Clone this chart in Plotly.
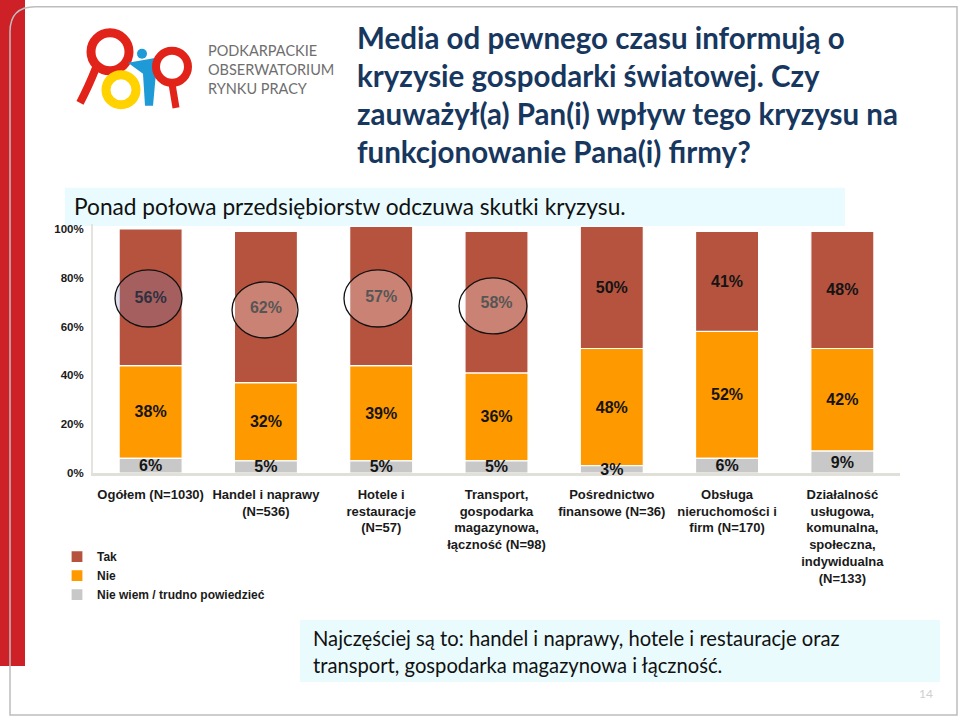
import plotly.graph_objects as go

categories = [
    "Ogółem (N=1030)",
    "Handel i naprawy<br>(N=536)",
    "Hotele i<br>restauracje<br>(N=57)",
    "Transport,<br>gospodarka<br>magazynowa,<br>łączność (N=98)",
    "Pośrednictwo<br>finansowe (N=36)",
    "Obsługa<br>nieruchomości i<br>firm (N=170)",
    "Działalność<br>usługowa,<br>komunalna,<br>społeczna,<br>indywidualna<br>(N=133)",
]
tak = [56, 62, 57, 58, 50, 41, 48]
nie = [38, 32, 39, 36, 48, 52, 42]
nie_wiem = [6, 5, 5, 5, 3, 6, 9]
y_ticks = [0, 20, 40, 60, 80, 100]
y_tick_labels = ["0%", "20%", "40%", "60%", "80%", "100%"]

W, H = 960, 718
Y_MAX = 102
L, R, B = 93, 900, 473
T = B - Y_MAX * 2.44


def px(xp):
    return (xp - L) / (R - L)


def py(yp):
    return (B - yp) / (B - T)


BAR_FONT = dict(family="Liberation Sans, Arial, sans-serif", size=16, color="#141414", weight="bold")

# stacked bottom-to-top: Nie wiem, Nie, Tak (bases computed from the data)
base_nie = nie_wiem
base_tak = [a + b for a, b in zip(nie_wiem, nie)]

fig = go.Figure()
# draw the grey segment last so its small labels sit on top of the orange bars
for name, vals, base, col, rank in [
    ("Nie", nie, base_nie, "#FF9900", 2),
    ("Tak", tak, base_tak, "#B5533F", 1),
    ("Nie wiem / trudno powiedzieć", nie_wiem, [0] * len(nie_wiem), "#C8C8C8", 3),
]:
    fig.add_trace(go.Bar(
        x=categories, y=vals, base=base, name=name, legendrank=rank,
        marker=dict(color=col, line=dict(color="white", width=1.2)),
        text=[f"{v}%" for v in vals], textposition="inside",
        insidetextanchor="middle", textangle=0, cliponaxis=False,
        textfont=BAR_FONT, hoverinfo="skip",
    ))

shapes = []
# slide frame
shapes.append(dict(type="rect", xref="paper", yref="paper",
                   x0=px(0), x1=px(25), y0=py(666), y1=py(0),
                   fillcolor="#CE2027", line=dict(width=0), layer="below"))
frame = (f"M {px(10)},{py(715)} L {px(10)},{py(32)} Q {px(10)},{py(7)} {px(35)},{py(7)} "
         f"L {px(957)},{py(7)} L {px(957)},{py(715)} Z")
shapes.append(dict(type="path", xref="paper", yref="paper", path=frame,
                   line=dict(color="#BDBDBD", width=1.5), layer="below"))
# text bands
shapes.append(dict(type="rect", xref="paper", yref="paper",
                   x0=px(65), x1=px(845), y0=py(226), y1=py(188),
                   fillcolor="#E9FBFE", line=dict(width=0), layer="below"))
shapes.append(dict(type="rect", xref="paper", yref="paper",
                   x0=px(300), x1=px(940), y0=py(682), y1=py(620),
                   fillcolor="#EAFBFE", line=dict(width=0), layer="below"))


def circle(cx, cy, r, **kw):
    return dict(type="circle", xref="paper", yref="paper",
                x0=px(cx - r), x1=px(cx + r), y0=py(cy + r), y1=py(cy - r), **kw)


# logo (approximate)
shapes.append(dict(type="path", xref="paper", yref="paper",
                   path=f"M {px(96)},{py(68)} Q {px(88)},{py(88)} {px(80)},{py(103)}",
                   line=dict(color="#E2231A", width=8)))
shapes.append(circle(110, 52, 19, line=dict(color="#E2231A", width=9)))
shapes.append(circle(121, 90, 15, line=dict(color="#FFD200", width=9)))
shapes.append(circle(142, 54, 5, fillcolor="#1E9AD6", line=dict(width=0)))
shapes.append(dict(type="path", xref="paper", yref="paper",
                   path=(f"M {px(128)},{py(63)} L {px(162)},{py(57)} L {px(156)},{py(73)} "
                         f"L {px(153)},{py(106)} L {px(145)},{py(106)} L {px(143)},{py(74)} Z"),
                   fillcolor="#1E9AD6", line=dict(width=0)))
shapes.append(circle(172, 67, 16, line=dict(color="#E2231A", width=8)))
shapes.append(dict(type="path", xref="paper", yref="paper",
                   path=f"M {px(172)},{py(84)} L {px(176)},{py(108)}",
                   line=dict(color="#E2231A", width=7)))

# ellipses around the highlighted "Tak" labels
for x0, x1, y0, y1, fill in [
    (-0.309, 0.272, 59.8, 83.2, "rgba(120,130,190,0.25)"),
    (0.706, 1.278, 55.3, 78.3, "rgba(255,255,255,0.28)"),
    (1.677, 2.267, 59.8, 83.2, "rgba(255,255,255,0.28)"),
    (2.675, 3.264, 57.0, 79.9, "rgba(255,255,255,0.28)"),
]:
    shapes.append(dict(type="circle", xref="x", yref="y", x0=x0, x1=x1, y0=y0, y1=y1,
                       fillcolor=fill, line=dict(color="#111111", width=1.3), layer="above"))

TITLE_FONT = dict(family="Lato, Carlito, sans-serif", size=29.5, color="#17375E", weight="bold")
annotations = []
for i, line in enumerate([
    "Media od pewnego czasu informują o",
    "kryzysie gospodarki światowej. Czy",
    "zauważył(a) Pan(i) wpływ tego kryzysu na",
    "funkcjonowanie Pana(i) firmy?",
]):
    annotations.append(dict(text=line, xref="paper", yref="paper", x=px(355), y=py(38 + 38 * i),
                            xanchor="left", yanchor="middle", showarrow=False, font=TITLE_FONT))

annotations.append(dict(text="PODKARPACKIE<br>OBSERWATORIUM<br>RYNKU PRACY",
                        xref="paper", yref="paper", x=px(206), y=py(70), align="left",
                        xanchor="left", yanchor="middle", showarrow=False,
                        font=dict(family="Lato, sans-serif", size=14.5, color="#6E6E6E")))

annotations.append(dict(text="Ponad połowa przedsiębiorstw odczuwa skutki kryzysu.",
                        xref="paper", yref="paper", x=px(72), y=py(207),
                        xanchor="left", yanchor="middle", showarrow=False,
                        font=dict(family="Lato, sans-serif", size=22.7, color="#111111")))
for i, line in enumerate([
    "Najczęściej są to: handel i naprawy, hotele i restauracje oraz",
    "transport, gospodarka magazynowa i łączność.",
]):
    annotations.append(dict(text=line, xref="paper", yref="paper", x=px(311), y=py(638 + 27 * i),
                            xanchor="left", yanchor="middle", showarrow=False,
                            font=dict(family="Lato, sans-serif", size=20.2, color="#111111")))
annotations.append(dict(text="14", xref="paper", yref="paper", x=px(926), y=py(693),
                        xanchor="center", yanchor="middle", showarrow=False,
                        font=dict(family="Lato, sans-serif", size=12, color="#CFCFCF")))

AX_FONT = dict(family="Liberation Sans, Arial, sans-serif", size=13, color="#1A1A1A", weight="bold")
fig.update_layout(
    width=W, height=H,
    margin=dict(l=L, r=W - R, t=T, b=H - B, autoexpand=False),
    paper_bgcolor="white", plot_bgcolor="white",
    barmode="overlay", bargap=0.453,
    uniformtext=dict(minsize=16, mode="show"),
    shapes=shapes, annotations=annotations,
    showlegend=True,
    legend=dict(traceorder="normal", x=px(57), y=py(542), xanchor="left", yanchor="top",
                font=dict(family="Liberation Sans, Arial, sans-serif", size=12,
                          color="#1A1A1A", weight="bold"),
                bgcolor="rgba(0,0,0,0)", itemclick=False, itemdoubleclick=False),
    xaxis=dict(showgrid=False, showline=True, linecolor="#E0E0D8", linewidth=3,
               ticks="", tickfont=AX_FONT, ticklabelstandoff=7, fixedrange=True,
               layer="below traces"),
    yaxis=dict(range=[0, Y_MAX], tickvals=y_ticks, ticktext=y_tick_labels, showgrid=False,
               showline=True, linecolor="#E4E4DC", linewidth=2, ticks="",
               tickfont=dict(family="Liberation Sans, Arial, sans-serif", size=11.5,
                             color="#1A1A1A", weight="bold"),
               ticklabelstandoff=5, zeroline=False, fixedrange=True, layer="below traces"),
)

fig.write_html("out.html", config={"displayModeBar": False},
               post_script="document.body.style.margin='0';")
